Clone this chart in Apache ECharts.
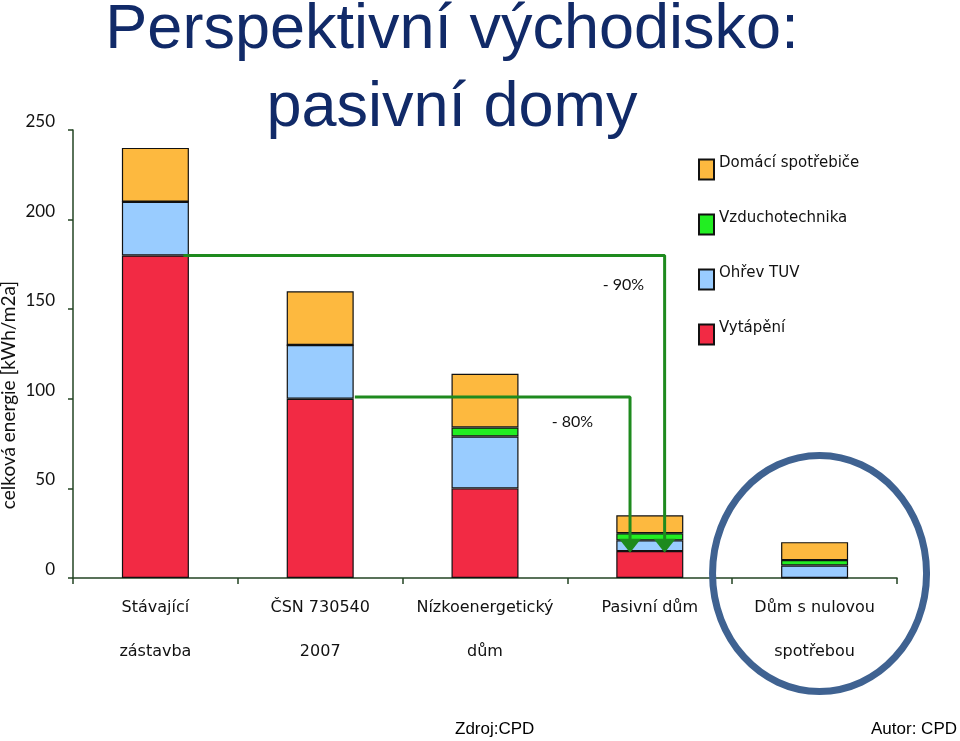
<!DOCTYPE html>
<html><head><meta charset="utf-8">
<script src="https://cdn.jsdelivr.net/npm/echarts@6/dist/echarts.min.js"></script>
<style>html,body{margin:0;padding:0;background:#fff}#c{width:960px;height:741px}</style>
</head><body><div id="c"></div>
<script>
// ---- data ----
const categories = ['Stávající\nzástavba', 'ČSN 730540\n2007', 'Nízkoenergetický\ndům', 'Pasivní dům', 'Dům s nulovou\nspotřebou'];
const seriesNames = ['Vytápění', 'Ohřev TUV', 'Vzduchotechnika', 'Domácí spotřebiče'];
const heating     = [180, 100, 50, 15, 0];
const hotWater    = [30, 30, 29, 6, 7];
const ventilation = [0, 0, 5, 4, 3];
const appliances  = [30, 30, 30, 10, 10];
const yMin = 0, yMax = 250, yStep = 50;
// annotation arrows (x in category units, y in kWh/m2a)
const arrow90 = [[0.17, 180], [3.09, 180], [3.09, 18]];
const arrow80 = [[1.21, 101], [2.88, 101], [2.88, 18]];
const pctLabels = ['- 90%', '- 80%'];
const pctAt = [[2.84, 163.5], [2.53, 87]];
const titleText = 'Perspektivní východisko:\npasivní domy';
const yName = 'celková energie [kWh/m2a]';

const colors = ['#F22A44', '#99CCFF', '#22EE22', '#FDB93F'];
const seriesData = [heating, hotWater, ventilation, appliances];
const axisColor = '#234423';
const arrowColor = '#1E8A1E';

const chart = echarts.init(document.getElementById('c'), null, {renderer: 'canvas'});

function arrowSeries(pts, label, at) {
  return {
    type: 'line', xAxisIndex: 1, yAxisIndex: 0, z: 5,
    symbol: 'none', showSymbol: true, animation: false, silent: true,
    lineStyle: {color: arrowColor, width: 3},
    itemStyle: {color: arrowColor},
    data: pts.map((p, i) => i === pts.length - 1
      ? {value: p, symbol: 'triangle', symbolSize: [22, 14], symbolRotate: 180}
      : {value: p, symbol: 'none'}),
    markPoint: {
      silent: true, animation: false,
      symbol: 'rect', symbolSize: [2, 2],
      itemStyle: {color: 'transparent'},
      label: {show: true, position: 'inside', formatter: label,
        fontFamily: 'Lato', fontSize: 16, color: '#111'},
      data: [{coord: at}]
    }
  };
}

const option = {
  animation: false,
  backgroundColor: '#fff',
  title: [
    {text: titleText, left: 452, top: -8, padding: 0, textAlign: 'center',
     textStyle: {fontFamily: 'Liberation Sans', fontSize: 63, fontWeight: 'normal', color: '#112A68', lineHeight: 78}},
    {text: 'Zdroj:CPD', left: 455, top: 721, padding: 0,
     textStyle: {fontFamily: 'Liberation Sans', fontSize: 17, fontWeight: 'normal', color: '#000'}},
    {text: 'Autor: CPD', right: 3, top: 721, padding: 0,
     textStyle: {fontFamily: 'Liberation Sans', fontSize: 17, fontWeight: 'normal', color: '#000'}}
  ],
  legend: {
    orient: 'vertical', left: 698, top: 156, padding: 0,
    itemWidth: 15, itemHeight: 20, itemGap: 30.5, icon: 'rect',
    data: ['Domácí spotřebiče', 'Vzduchotechnika', 'Ohřev TUV', 'Vytápění'],
    formatter: '{t|{name}}',
    textStyle: {fontFamily: 'DejaVu Sans', fontSize: 15, color: '#111',
      rich: {t: {fontFamily: 'DejaVu Sans', fontSize: 15, color: '#111', padding: [0, 0, 12, 0]}}},
    selectedMode: false
  },
  grid: {left: 73, right: 63, top: 130, bottom: 163, containLabel: false, outerBoundsMode: 'none'},
  xAxis: [
    {type: 'category', data: categories, boundaryGap: true,
     axisLine: {show: true, onZero: false, lineStyle: {color: axisColor, width: 1.5}},
     axisTick: {show: true, length: 6, inside: false, lineStyle: {color: axisColor, width: 1.5}},
     axisLabel: {margin: 8, lineHeight: 44, fontFamily: 'DejaVu Sans', fontSize: 16, color: '#111', interval: 0},
     splitLine: {show: false}},
    {type: 'value', min: -0.5, max: 4.5, show: false}
  ],
  yAxis: {
    type: 'value', min: yMin, max: yMax, interval: yStep,
    name: yName, nameLocation: 'middle', nameGap: 55, nameRotate: 90, nameMoveOverlap: false,
    nameTextStyle: {fontFamily: 'Lato', fontSize: 19, color: '#111', padding: [0, 82, 0, 0]},
    axisLine: {show: true, onZero: false, lineStyle: {color: axisColor, width: 1.5}},
    axisTick: {show: true, length: 5, lineStyle: {color: axisColor, width: 1.5}},
    axisLabel: {margin: 18, verticalAlign: 'bottom', fontFamily: 'Lato', fontSize: 17, color: '#111'},
    splitLine: {show: false}
  },
  series: seriesNames.map((n, i) => ({
    name: n, type: 'bar', stack: 'total', barWidth: 67,
    data: seriesData[i],
    itemStyle: {color: colors[i], borderColor: '#111', borderWidth: 1.2},
    emphasis: {disabled: true}
  })).concat([
    arrowSeries(arrow90, pctLabels[0], pctAt[0]),
    arrowSeries(arrow80, pctLabels[1], pctAt[1])
  ])
};
chart.setOption(option);

// highlight circle around the last category
const c = chart.convertToPixel({xAxisIndex: 1, yAxisIndex: 0}, [4.03, 2.5]);
chart.setOption({
  graphic: [{
    type: 'ellipse', z: 10, silent: true,
    shape: {cx: c[0], cy: c[1], rx: 107, ry: 118},
    style: {fill: 'none', stroke: '#3F6291', lineWidth: 7}
  }]
});
</script>
</body></html>
